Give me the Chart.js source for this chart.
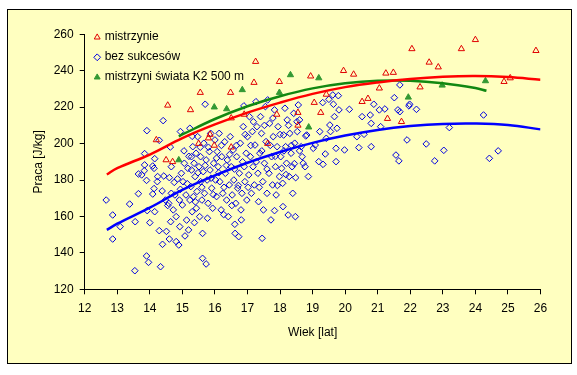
<!DOCTYPE html>
<html>
<head>
<meta charset="utf-8">
<script src="https://cdn.jsdelivr.net/npm/chart.js@4"></script>
<style>
    body { margin: 0; background: #fff; }
    #frame {
        position: absolute;
        left: 7px;
        top: 9px;
        width: 563px;
        height: 353px;
        border: 1px solid #000;
        background: #FFFFC0;
    }
    canvas { display: block; }
</style>
</head>
<body>
<div id="frame"><canvas id="workChart" width="563" height="353"></canvas></div>
<script>
// Mistrzynie (red hollow triangles)
const mistrzynieAge = [14.55, 14.2, 14.5, 14.7, 15.25, 15.55, 15.5, 15.85, 15.8, 15.98, 16.48, 16.5, 16.5, 16.9, 17.25, 17.2, 17.62, 17.98, 17.9, 18.55, 18.55, 18.94, 19.05, 19.25, 19.42, 19.95, 20.26, 20.52, 20.7, 21.05, 21.25, 21.48, 21.3, 21.73, 22.05, 22.3, 22.58, 22.86, 23.57, 24.0, 24.88, 25.07, 25.86];
const mistrzyniePraca = [221, 202, 191, 190, 218.5, 228, 200, 205, 203, 199, 228, 214, 198, 216, 245, 233.5, 200, 234, 216, 217, 210, 237, 222.5, 217, 227, 240, 238, 223, 224.7, 230.4, 238.6, 239, 213.7, 212, 252, 231, 244.6, 242, 252, 257, 234, 236, 251];

// Mistrzyni swiata K2 500 m (green filled triangles)
const swiataAge = [14.89, 15.98, 16.36, 16.84, 17.98, 18.32, 19.19, 18.88, 21.94, 22.98, 24.31];
const swiataPraca = [191, 220, 219, 229.5, 228, 237.7, 236, 209, 225.4, 232, 234.4];

// Bez sukcesow (blue hollow diamonds)
const bezAge = [
    12.66, 12.86, 12.86, 13.09, 13.38, 13.54, 13.55, 13.65, 13.65, 13.75, 13.83, 13.84, 13.84, 13.91, 13.9, 13.92, 13.9, 13.96, 14.0, 14.09,
    14.09, 14.13, 14.15, 14.13, 14.15, 14.23, 14.24, 14.29, 14.29, 14.33, 14.38, 14.41, 14.39, 14.43, 14.48, 14.51, 14.55, 14.58, 14.6, 14.6,
    14.63, 14.64, 14.66, 14.66, 14.72, 14.75, 14.77, 14.81, 14.81, 14.85, 14.89, 14.91, 14.92, 14.94, 14.94, 14.97, 15.0, 15.02, 15.06, 15.08,
    15.11, 15.13, 15.17, 15.19, 15.23, 15.23, 15.26, 15.28, 15.28, 15.3, 15.32, 15.34, 15.36, 15.37, 15.39, 15.42, 15.43, 15.45, 15.47, 15.51,
    15.53, 15.56, 15.56, 15.6, 15.62, 15.62, 15.64, 15.66, 15.68, 15.7, 15.73, 15.73, 15.76, 15.77, 15.79, 15.83, 15.85, 15.87, 15.9, 15.93,
    15.96, 16.0, 16.02, 16.05, 16.07, 16.1, 16.13, 16.15, 16.19, 16.21, 16.24, 16.27, 16.3, 16.32, 16.36, 16.38, 16.41, 16.44, 16.47, 16.5,
    16.53, 16.56, 16.58, 16.61, 16.62, 16.64, 16.67, 16.7, 16.73, 16.75, 16.78, 16.8, 16.81, 16.83, 16.87, 16.89, 16.9, 16.92, 16.96, 16.98,
    17.0, 17.04, 17.06, 17.09, 17.12, 17.15, 17.17, 17.21, 17.23, 17.26, 17.29, 17.32, 17.34, 17.38, 17.4, 17.43, 17.45, 17.47, 17.49, 17.52,
    17.55, 17.57, 17.6, 17.62, 17.66, 17.68, 17.72, 17.74, 17.77, 17.79, 17.83, 17.83, 17.86, 17.88, 17.91, 17.94, 17.98, 18.02, 18.05, 18.08,
    18.09, 18.11, 18.15, 18.17, 18.2, 18.22, 18.25, 18.28, 18.3, 18.34, 18.37, 18.39, 18.42, 18.45, 18.47, 18.48, 18.53, 18.56, 18.6, 18.65,
    18.68, 18.71, 18.77, 18.79, 18.82, 18.87, 19.02, 19.08, 19.19, 19.22, 19.31, 19.32, 19.39, 19.42, 19.5, 19.53, 19.55, 19.62, 19.64, 19.67,
    19.72, 19.72, 19.75, 19.79, 19.81, 19.98, 20.13, 20.36, 20.42, 20.52, 20.58, 20.77, 20.8, 20.8, 20.88, 21.05, 21.09, 21.22, 21.51, 21.56,
    21.62, 21.65, 21.68, 21.68, 21.9, 21.96, 21.98, 22.19, 22.49, 22.75, 23.03, 23.2, 24.25, 24.43, 24.7,
    15.05, 15.15, 15.2, 15.3, 15.4, 15.48, 15.55, 15.6, 15.7, 15.8, 15.88, 15.95, 16.05, 16.12, 16.2, 16.28, 16.35, 16.45, 16.52, 16.6,
    16.66, 16.72, 16.85, 16.93, 17.02, 17.1, 17.18, 17.27, 17.36, 17.44, 17.52, 17.6, 17.7, 17.78, 17.85, 17.92, 18.0, 18.12, 18.18, 18.26,
    18.35, 18.44, 18.52, 18.6
];
const bezPraca = [
    169, 160.8, 147.6, 154.4, 166.8, 130.2, 157.1, 172.5, 183.3, 182.8, 185.1, 188.3, 194.5, 207.1, 179.8, 163.2, 138.3, 134.8, 156.6, 187.7,
    172.3, 175.3, 191.7, 186.4, 162.6, 179.1, 181.9, 201.8, 152.2, 132.4, 174, 212.6, 144.7, 182.2, 169, 151.8, 166, 167.2, 181.3, 147.6,
    198.1, 157.1, 187.3, 172.7, 163.6, 178.7, 171.8, 159.9, 146.2, 180.6, 144.3, 169, 154.4, 174.9, 206.6, 183.7, 166.3, 179.1, 189.2, 149.3,
    171.8, 158, 186.4, 152.6, 208.4, 169, 176.4, 192.8, 185.5, 162.6, 198.3, 170.9, 189.2, 156.6, 181.9, 194.7, 164.5, 173.7, 203.8, 187.3,
    159.9, 179.1, 192.8, 169, 150.7, 137, 184.6, 200.2, 172.7, 221.6, 133.9, 191, 180, 159, 167.2, 195.6, 185.5, 205.6, 175.5, 164.5,
    189.2, 202, 180, 170.9, 195.6, 187.3, 205.6, 179.1, 163.6, 192.8, 172.7, 161, 201, 183.7, 169, 191, 159.9, 177.3, 203.8, 187.3,
    171.8, 196.5, 180, 155.7, 150.7, 167.2, 192.8, 175.5, 148.9, 183.7, 200.2, 163.6, 158.1, 172.7, 209.3, 220.7, 187.3, 179.1, 194.7, 169,
    203.8, 182.8, 214.8, 192.8, 172.7, 206.6, 187.3, 177.3, 199.2, 223, 209.3, 183.7, 168.1, 194.7, 214.8, 205.6, 148, 179.1, 163.6, 189.2,
    220.3, 201.1, 172.7, 224, 183.7, 211.1, 158.1, 192.8, 177.3, 203.8, 218.5, 163.2, 187.3, 171.8, 198.3, 209.3, 181.9, 192.8, 186.4, 178.2,
    165.4, 204.7, 219.4, 198.3, 189.2, 213, 160.8, 181.9, 205.6, 194.7, 187.3, 172.7, 216.6, 200.2, 159.9, 181.3, 206.6, 221.2, 213, 198.3,
    192.8, 189.2, 187.3, 204.2, 204.7, 181.9, 197.4, 199.2, 190.1, 206.6, 222.5, 188.6, 194.3, 202.9, 224.3, 210.2, 206.6, 226.7, 221.6, 214.8,
    197.4, 190.1, 208.4, 226.3, 218.5, 196.5, 218.8, 203.8, 197.8, 214.8, 205.1, 215.7, 198.3, 211.1, 221.6, 218.5, 209.3, 219, 225.2, 193.7,
    218.5, 190.5, 232.2, 217.5, 202, 220.7, 221.6, 218.8, 199.8, 190.5, 196.3, 208.8, 215.7, 191.9, 196,
    196, 178, 193, 204, 168, 184, 198, 176, 188, 198, 181, 172, 192, 184, 199, 176, 188, 194, 166, 186,
    199, 177, 190, 205, 176, 199, 212, 190, 176, 196, 210, 186, 199, 214, 193, 177, 205, 196, 183, 210,
    199, 189, 212, 196
];

// Trend lines
const trendAge = [12.68, 13, 14, 15, 16, 17, 18, 19, 20, 21, 22, 23, 24, 25, 26];
const mistrzynieTrend = [183, 186.5, 194, 203, 210.5, 217, 222.5, 227.3, 231, 233.6, 235.5, 236.7, 237.1, 236.5, 235];
const bezTrend = [152.6, 156, 164.8, 174.6, 182.5, 189.5, 195.4, 200.4, 204.4, 207.5, 209.6, 210.8, 211, 210.2, 207.8];
const swiataTrendAge = [14.89, 15, 16, 17, 18, 19, 20, 21, 22, 23, 24, 24.34];
const swiataTrend = [204, 205, 213.5, 220.5, 226, 230.3, 233.1, 234.5, 234.5, 233.1, 230.5, 229];

const xTicks = { min: 12, max: 26, step: 1 };
const yTicks = { min: 120, max: 260, step: 20 };

function toPoints(xs, ys) {
    return xs.map((x, i) => ({ x: x, y: ys[i] }));
}

const RED = '#E00000';
const BLUE = '#0000E0';
const GREEN = '#339933';
const FONT = { family: 'Liberation Sans, Arial, sans-serif', size: 12 };

// Legend drawn inside the plot, top left
const legendItems = [
    { text: 'mistrzynie', style: 'triangle', color: RED, fill: false },
    { text: 'bez sukcesów', style: 'diamond', color: BLUE, fill: false },
    { text: 'mistrzyni świata K2 500 m', style: 'triangle', color: GREEN, fill: true }
];

function drawMarker(ctx, style, x, y, r, color, fill) {
    ctx.beginPath();
    if (style === 'triangle') {
        ctx.moveTo(x, y - r);
        ctx.lineTo(x + r * 0.866, y + r * 0.5);
        ctx.lineTo(x - r * 0.866, y + r * 0.5);
    } else {
        ctx.moveTo(x - r, y);
        ctx.lineTo(x, y - r);
        ctx.lineTo(x + r, y);
        ctx.lineTo(x, y + r);
    }
    ctx.closePath();
    ctx.lineWidth = 1;
    ctx.strokeStyle = color;
    ctx.stroke();
    if (fill) {
        ctx.fillStyle = color;
        ctx.fill();
    }
}

const insideLegend = {
    id: 'insideLegend',
    afterDraw(chart) {
        const ctx = chart.ctx;
        const area = chart.chartArea;
        ctx.save();
        ctx.font = FONT.size + 'px ' + FONT.family;
        ctx.textBaseline = 'middle';
        legendItems.forEach((item, i) => {
            const y = area.top + 2 + i * 20;
            drawMarker(ctx, item.style, area.left + 12.5, y + 1, 3.4, item.color, item.fill);
            ctx.fillStyle = '#000';
            ctx.fillText(item.text, area.left + 20, y);
        });
        ctx.restore();
    }
};

const ctx = document.getElementById('workChart').getContext('2d');

const workChart = new Chart(ctx, {
    type: 'scatter',
    data: {
        datasets: [
            {
                label: 'trend mistrzynie',
                type: 'line',
                data: toPoints(trendAge, mistrzynieTrend),
                borderColor: '#FF0000',
                borderWidth: 2.5,
                pointRadius: 0,
                tension: 0.4,
                order: 0
            },
            {
                label: 'trend mistrzyni świata',
                type: 'line',
                data: toPoints(swiataTrendAge, swiataTrend),
                borderColor: '#118811',
                borderWidth: 2.5,
                pointRadius: 0,
                tension: 0.4,
                order: 0
            },
            {
                label: 'trend bez sukcesów',
                type: 'line',
                data: toPoints(trendAge, bezTrend),
                borderColor: '#0000FF',
                borderWidth: 2.5,
                pointRadius: 0,
                tension: 0.4,
                order: 0
            },
            {
                label: 'mistrzynie',
                data: toPoints(mistrzynieAge, mistrzyniePraca),
                pointStyle: 'triangle',
                pointRadius: 3.6,
                borderColor: RED,
                backgroundColor: 'rgba(0,0,0,0)',
                borderWidth: 1,
                order: 1
            },
            {
                label: 'mistrzyni świata K2 500 m',
                data: toPoints(swiataAge, swiataPraca),
                pointStyle: 'triangle',
                pointRadius: 3.6,
                borderColor: GREEN,
                backgroundColor: GREEN,
                borderWidth: 1,
                order: 2
            },
            {
                label: 'bez sukcesów',
                data: toPoints(bezAge, bezPraca),
                pointStyle: 'rectRot',
                pointRadius: 3.3,
                borderColor: BLUE,
                backgroundColor: 'rgba(0,0,0,0)',
                borderWidth: 1,
                order: 3
            }
        ]
    },
    options: {
        responsive: false,
        animation: false,
        devicePixelRatio: 1,
        layout: {
            padding: { left: 0, right: 30.5, top: 24.3, bottom: 0 }
        },
        plugins: {
            legend: { display: false },
            tooltip: { enabled: false }
        },
        scales: {
            x: {
                type: 'linear',
                min: xTicks.min,
                max: xTicks.max,
                afterFit: (scale) => { scale.height = 73.7; },
                ticks: {
                    stepSize: xTicks.step,
                    color: '#000',
                    font: FONT,
                    padding: 7,
                    maxRotation: 0
                },
                grid: {
                    drawOnChartArea: false,
                    drawTicks: true,
                    tickLength: 5,
                    color: '#000'
                },
                border: { display: true, color: '#000', width: 1 },
                title: {
                    display: true,
                    text: 'Wiek [lat]',
                    color: '#000',
                    font: FONT,
                    padding: { top: 0, bottom: 23 }
                }
            },
            y: {
                type: 'linear',
                min: yTicks.min,
                max: yTicks.max,
                afterFit: (scale) => { scale.width = 76.7; },
                ticks: {
                    stepSize: yTicks.step,
                    color: '#000',
                    font: FONT,
                    padding: 6
                },
                grid: {
                    drawOnChartArea: false,
                    drawTicks: true,
                    tickLength: 5,
                    color: '#000'
                },
                border: { display: true, color: '#000', width: 1 },
                title: {
                    display: true,
                    text: 'Praca [J/kg]',
                    color: '#000',
                    font: FONT,
                    padding: { top: 23.5, bottom: 0 }
                }
            }
        }
    },
    plugins: [insideLegend]
});
</script>
</body>
</html>
